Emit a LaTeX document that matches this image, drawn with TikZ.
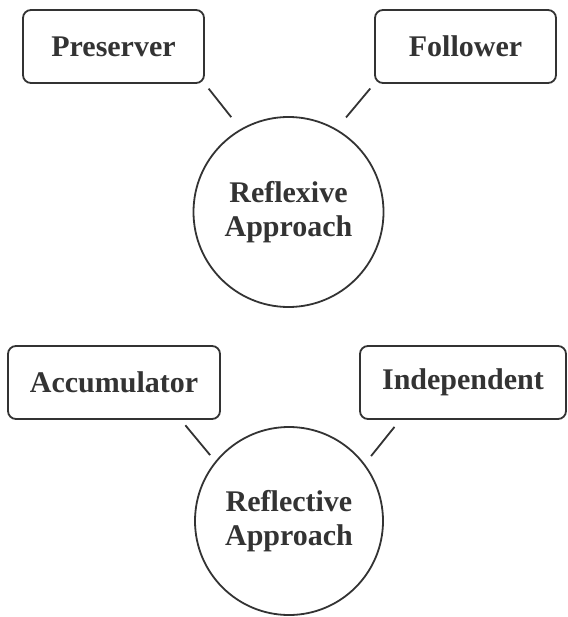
\documentclass[tikz,border=0pt]{standalone}
\usepackage{fontspec}
\setmainfont{Liberation Serif}
\usetikzlibrary{calc}
\definecolor{ink}{HTML}{333333}
\begin{document}
\begin{tikzpicture}[x=1pt,y=-1pt,
  lbl/.style={font=\fontsize{30}{34}\selectfont\bfseries, text=ink},
  rolebox/.style={lbl, draw=ink, line width=1.8pt, rounded corners=8pt,
    minimum height=73pt, inner sep=0pt},
  approach/.style={lbl, draw=ink, line width=1.8pt, circle, inner sep=0pt, align=center},
  link/.style={draw=ink, line width=1.8pt}]
\useasboundingbox (0,0) rectangle (567,617);
\node[rolebox, minimum width=181pt] (pres) at (113.5,46.5) {Preserver};
\node[rolebox, minimum width=181pt] (fol) at (465.5,46.5) {Follower};
\node[approach, minimum size=190pt] (c1) at (288.5,212) {Reflexive\\Approach};
\node[rolebox, minimum width=212pt] (acc) at (114,382.5) {Accumulator};
\node[rolebox, minimum width=206pt] (ind) at (463,382.5) {Independent};
\node[approach, minimum size=188pt] (c2) at (289,521) {Reflective\\Approach};
\draw[link, shorten <=6pt, shorten >=15pt] (pres.south east) -- (c1.120);
\draw[link, shorten <=6pt, shorten >=15pt] (fol.south west) -- (c1.60);
\draw[link, shorten <=7pt, shorten >=8pt] ($(acc.south east)+(-40pt,0)$) -- (c2.141);
\draw[link, shorten <=9pt, shorten >=10pt] ($(ind.south west)+(41pt,0)$) -- (c2.37.5);
\end{tikzpicture}
\end{document}
